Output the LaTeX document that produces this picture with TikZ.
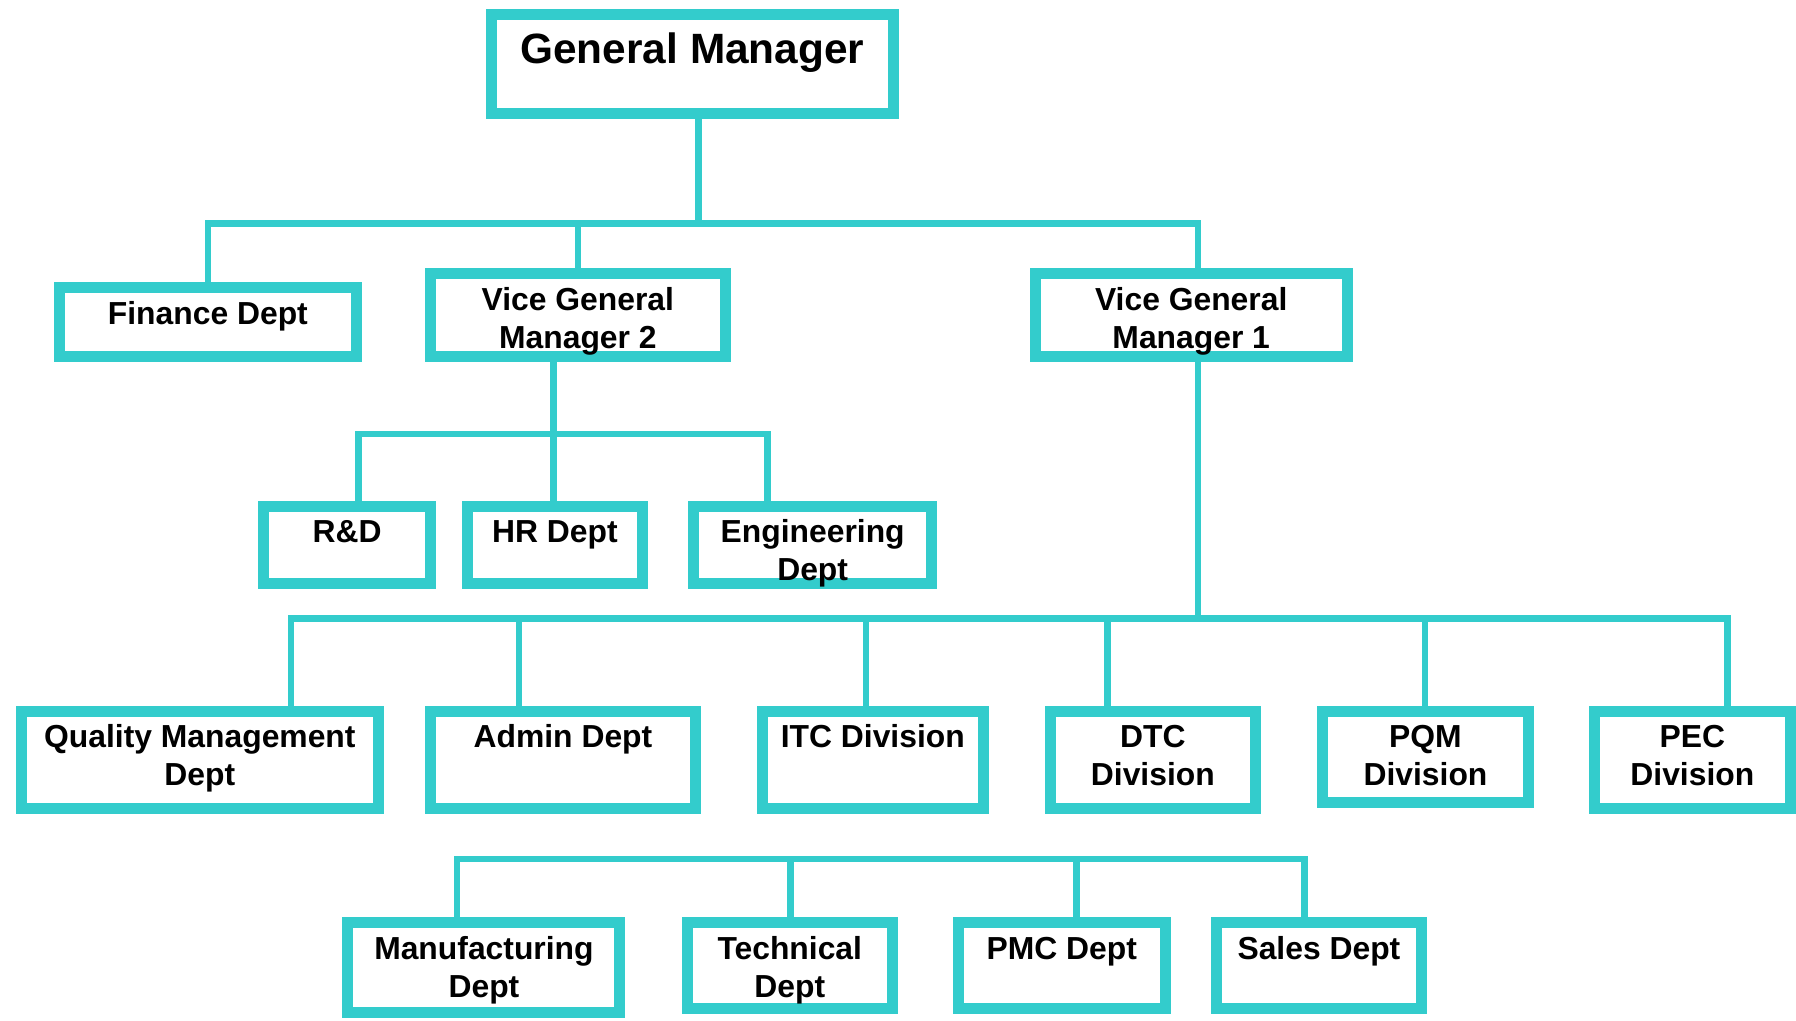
\documentclass[tikz,border=0pt]{standalone}
\usepackage{fontspec}
\setmainfont{Liberation Sans}
\usepackage{tikz}
\definecolor{boxcyan}{HTML}{33CCCC}
\newcommand{\unittext}[3]{\parbox[c][#2][t]{#1}{\centering\rule{0pt}{16.1pt}#3}}
\tikzset{
  unit/.style={draw=boxcyan, line width=4.8pt, fill=white, inner sep=0pt,
    font=\bfseries\fontsize{13.9}{16.5}\selectfont},
  link/.style={draw=boxcyan, line width=2.9pt}
}

\begin{document}
\begin{tikzpicture}[x=0.5pt, y=-0.5pt]
            \useasboundingbox (0, 0) rectangle (1568, 891);
            \node[unit, font=\bfseries\fontsize{18.5}{22}\selectfont] (gm) at (604.5, 56)
              {\parbox[c][43.2pt][t]{175.7pt}{\centering\rule{0pt}{21.1pt}General Manager}};
            \node[unit] (fin) at (181.5, 281) {\unittext{129.7pt}{30.2pt}{Finance Dept}};
            \node[unit] (vgm2) at (504.5, 275) {\unittext{128.7pt}{36.2pt}{Vice General\\Manager 2}};
            \node[unit] (vgm1) at (1040, 275) {\unittext{136.2pt}{36.2pt}{Vice General\\Manager 1}};
            \node[unit] (rd) at (303, 475.5) {\unittext{73.2pt}{33.7pt}{R\&D}};
            \node[unit] (hr) at (484.5, 475.5) {\unittext{76.7pt}{33.7pt}{HR Dept}};
            \node[unit] (eng) at (709.5, 475.5) {\unittext{103.7pt}{33.7pt}{Engineering\\Dept}};
            \node[unit] (qm) at (174.5, 663.5) {\unittext{155.7pt}{42.7pt}{Quality Management\\Dept}};
            \node[unit] (admin) at (491.5, 663.5) {\unittext{115.7pt}{42.7pt}{Admin Dept}};
            \node[unit] (itc) at (762, 663.5) {\unittext{96.2pt}{42.7pt}{ITC Division}};
            \node[unit] (dtc) at (1006.5, 663.5) {\unittext{89.7pt}{42.7pt}{DTC\\Division}};
            \node[unit] (pqm) at (1244.5, 660.5) {\unittext{89.7pt}{39.7pt}{PQM\\Division}};
            \node[unit] (pec) at (1477.5, 663.5) {\unittext{85.7pt}{42.7pt}{PEC\\Division}};
            \node[unit] (mfg) at (422.5, 845) {\unittext{118.7pt}{39.2pt}{Manufacturing\\Dept}};
            \node[unit] (tech) at (689.5, 843) {\unittext{89.7pt}{37.2pt}{Technical\\Dept}};
            \node[unit] (pmc) at (927, 843) {\unittext{90.2pt}{37.2pt}{PMC Dept}};
            \node[unit] (sales) at (1151.5, 843) {\unittext{89.7pt}{37.2pt}{Sales Dept}};
            \coordinate (j0) at (610, 195);
            \coordinate (j1) at (483, 379);
            \coordinate (j2) at (1046, 540);
            \coordinate (j3) at (690, 750);
            \draw[link] ([xshift=2.75pt]gm.south) -- (j0);
            \draw[link] (j0) -| (fin.north);
            \draw[link] (j0) -| (vgm2.north);
            \draw[link] (j0) -| ([xshift=3pt]vgm1.north);
            \draw[link] ([xshift=-10.75pt]vgm2.south) -- (j1);
            \draw[link] (j1) -| ([xshift=5pt]rd.north);
            \draw[link] (j1) -| ([xshift=-0.75pt]hr.north);
            \draw[link] (j1) -| ([xshift=-19.75pt]eng.north);
            \draw[link] ([xshift=3pt]vgm1.south) -- (j2);
            \draw[link] (j2) -| ([xshift=39.75pt]qm.north);
            \draw[link] (j2) -| ([xshift=-19.25pt]admin.north);
            \draw[link] (j2) -| ([xshift=-3pt]itc.north);
            \draw[link] (j2) -| ([xshift=-19.75pt]dtc.north);
            \draw[link] (j2) -| ([xshift=-0.25pt]pqm.north);
            \draw[link] (j2) -| ([xshift=15.25pt]pec.north);
            \draw[link] (j3) -| ([xshift=-11.75pt]mfg.north);
            \draw[link] (j3) -| ([xshift=0.25pt]tech.north);
            \draw[link] (j3) -| ([xshift=6.5pt]pmc.north);
            \draw[link] (j3) -| ([xshift=-6.25pt]sales.north);
          \end{tikzpicture}
\end{document}
